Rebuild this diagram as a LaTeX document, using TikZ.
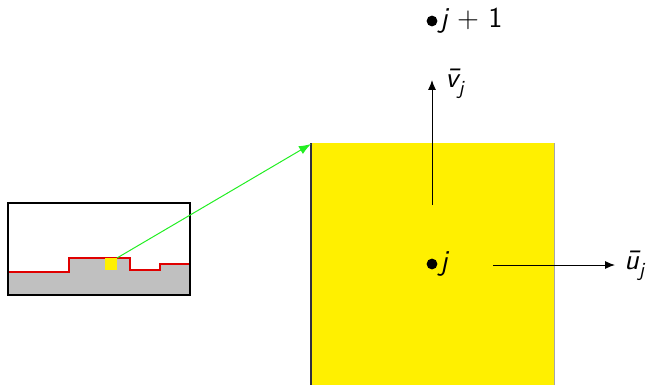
\documentclass[tikz,border=0pt]{standalone}
\usepackage{tikz}
\usetikzlibrary{arrows.meta, positioning}
\definecolor{cellyellow}{HTML}{FFF000}
\definecolor{stepred}{HTML}{E00000}
\definecolor{soilgray}{HTML}{C0C0C0}
\definecolor{rayGreen}{HTML}{22EE22}
\definecolor{edgedark}{HTML}{303040}
\newcommand{\sfi}[1]{{\sffamily\itshape #1}}
\newcommand{\vecsub}[2]{\sfi{\={#1}}\raisebox{-0.6ex}{\normalsize\sfi{#2}}}

\begin{document}
\begin{tikzpicture}[
    x=0.5pt, y=-0.5pt,
    % ── Node styles ──────────────────────────────────────────────────────
    vertex/.style={
        circle, fill=black, inner sep=0pt, minimum size=5.4pt
    },
    marklabel/.style={
        font=\Large, text=black, inner sep=1pt
    },
    % ── Arrow styles ─────────────────────────────────────────────────────
    arr/.style={
        -{Latex[length=5pt, width=4pt]}, line width=0.5pt, color=black
    },
    ray/.style={
        -{Latex[length=6pt, width=4.5pt]}, line width=0.5pt, color=rayGreen
    }
]
\useasboundingbox (0,0) rectangle (647,385);

% ═══════════════════════════════════════════════════════════════════════════
% Overview box with the stepped profile
% ═══════════════════════════════════════════════════════════════════════════
\fill[soilgray] (8,272) -- (69,272) -- (69,258) -- (130,258) -- (130,270)
    -- (160,270) -- (160,264) -- (190,264) -- (190,295) -- (8,295) -- cycle;
\draw[stepred, line width=1.3pt] (8,272) -- (69,272) -- (69,258) -- (130,258)
    -- (130,270) -- (160,270) -- (160,264) -- (190,264);
\draw[black, line width=1pt] (8,203) rectangle (190,295);

% Small cell
\fill[cellyellow] (105,258) rectangle (117,270);
\coordinate (cellcorner) at (117,258);

% ═══════════════════════════════════════════════════════════════════════════
% Enlarged cell
% ═══════════════════════════════════════════════════════════════════════════
\fill[cellyellow] (311,143) rectangle (554,385);
\draw[edgedark, line width=0.6pt] (311,143) -- (311,385);
\draw[gray!70, line width=0.5pt] (554,143) -- (554,385);
\coordinate (bigcorner) at (311,144);

% Vertices
\node[vertex] (j) at (432,264) {};
\node[marklabel, right=0pt of j] (jlab) {\sfi{j}};
\node[vertex] (jnext) at (432,21) {};
\node[marklabel, right=0pt of jnext] (jnextlab) {\sfi{j} {\sffamily + 1}};

% Direction vectors
\coordinate (vstart) at (432,205);
\coordinate (vend) at (432,80);
\coordinate (ustart) at (493,265);
\coordinate (uend) at (615,265);
\node[marklabel, anchor=west] (vlab) at (443,84) {\vecsub{v}{j}};
\node[marklabel, anchor=west] (ulab) at (622,266) {\vecsub{u}{j}};

% ═══════════════════════════════════════════════════════════════════════════
% Arrows
% ═══════════════════════════════════════════════════════════════════════════
\draw[ray] (cellcorner) -- (bigcorner);
\draw[arr] (vstart) -- (vend);
\draw[arr] (ustart) -- (uend);

\end{tikzpicture}
\end{document}
